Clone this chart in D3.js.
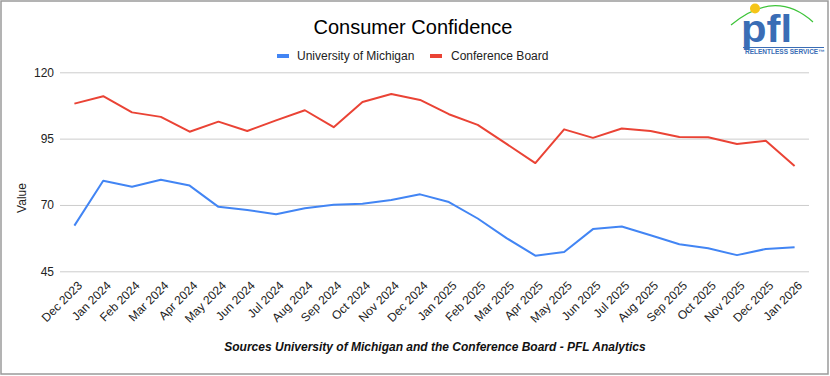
<!DOCTYPE html>
<html>
<head>
<meta charset="utf-8">
<script src="https://cdn.jsdelivr.net/npm/d3@7"></script>
<style>
	body { margin: 0; background: #fff; }
	svg { display: block; font-family: "Liberation Sans", Arial, sans-serif; }
</style>
</head>
<body>
<div id="chart"></div>
<script>

// monthly readings, Dec 2023 - Jan 2026
const months = ["Dec 2023", "Jan 2024", "Feb 2024", "Mar 2024", "Apr 2024", "May 2024", "Jun 2024",
	"Jul 2024", "Aug 2024", "Sep 2024", "Oct 2024", "Nov 2024", "Dec 2024", "Jan 2025", "Feb 2025",
	"Mar 2025", "Apr 2025", "May 2025", "Jun 2025", "Jul 2025", "Aug 2025", "Sep 2025", "Oct 2025",
	"Nov 2025", "Dec 2025", "Jan 2026"];

const michigan = [62.2, 79.1, 76.9, 79.5, 77.3, 69.3, 68.1, 66.5, 68.8, 70.1, 70.5, 71.9, 74.0,
	71.1, 64.9, 57.5, 50.9, 52.3, 60.9, 61.9, 58.6, 55.2, 53.7, 51.1, 53.4, 54.1];

const confBoard = [108.2, 111.0, 104.9, 103.2, 97.6, 101.4, 97.9, 101.9, 105.7, 99.3, 108.8, 111.8,
	109.6, 104.2, 100.2, 93.0, 85.8, 98.5, 95.3, 98.8, 97.9, 95.6, 95.5, 93.0, 94.2, 84.7];

const yTicks = [45, 70, 95, 120];

const series = [
	{ name: "University of Michigan", values: michigan, color: "#4285f4" },
	{ name: "Conference Board", values: confBoard, color: "#ea4335" }
];

const W = 830, H = 376;
const plot = { left: 60, right: 809, top: 72.3, bottom: 271.3 };

const svg = d3.select("#chart").append("svg")
	.attr("width", W)
	.attr("height", H);

svg.append("rect")
	.attr("x", 1).attr("y", 1)
	.attr("width", W - 3).attr("height", H - 3)
	.attr("fill", "#fff")
	.attr("stroke", "#9a9a9a")
	.attr("stroke-width", 1.5);

// title
svg.append("text")
	.attr("x", 413).attr("y", 34)
	.attr("text-anchor", "middle")
	.attr("font-size", 20)
	.attr("fill", "#000")
	.text("Consumer Confidence");

// legend
const legendPos = [{ sw: 277, tx: 297 }, { sw: 430, tx: 451 }];
const legend = svg.append("g").attr("class", "legend");
series.forEach((s, i) => {
	legend.append("rect")
		.attr("x", legendPos[i].sw).attr("y", 54)
		.attr("width", 12).attr("height", 4)
		.attr("fill", s.color);
	legend.append("text")
		.attr("x", legendPos[i].tx).attr("y", 60)
		.attr("font-size", 12)
		.attr("fill", "#222")
		.text(s.name);
});

// scales
const x = d3.scalePoint()
	.domain(months)
	.range([plot.left, plot.right])
	.padding(0.5);

const y = d3.scaleLinear()
	.domain([45, 120])
	.range([plot.bottom, plot.top]);

// gridlines + y labels
const yAxis = d3.axisLeft(y)
	.tickValues(yTicks)
	.tickSize(-(plot.right - plot.left))
	.tickPadding(6);

svg.append("g")
	.attr("class", "y-axis")
	.attr("transform", `translate(${plot.left},0)`)
	.call(yAxis)
	.call(g => g.select(".domain").remove())
	.call(g => g.selectAll(".tick line").attr("stroke", "#ccc"))
	.call(g => g.selectAll(".tick text")
		.attr("font-size", 12)
		.attr("font-family", "Liberation Sans, Arial, sans-serif")
		.attr("fill", "#222"));

svg.append("text")
	.attr("transform", "translate(26,198) rotate(-90)")
	.attr("text-anchor", "middle")
	.attr("font-size", 12)
	.attr("fill", "#222")
	.text("Value");

// x labels
const xAxis = d3.axisBottom(x).tickSize(0).tickPadding(0);
svg.append("g")
	.attr("class", "x-axis")
	.attr("transform", `translate(0,${plot.bottom})`)
	.call(xAxis)
	.call(g => g.select(".domain").remove())
	.call(g => g.selectAll(".tick text")
		.attr("font-size", 12)
		.attr("font-family", "Liberation Sans, Arial, sans-serif")
		.attr("fill", "#222")
		.attr("text-anchor", "end")
		.attr("dy", 0)
		.attr("transform", "translate(8,15) rotate(-45)"));

// lines
const line = d3.line()
	.x((d, i) => x(months[i]))
	.y(d => y(d));

svg.selectAll(".series")
	.data(series)
	.join("path")
	.attr("class", "series")
	.attr("fill", "none")
	.attr("stroke", d => d.color)
	.attr("stroke-width", 2)
	.attr("stroke-linejoin", "round")
	.attr("d", d => line(d.values));

// footer
svg.append("text")
	.attr("x", 435).attr("y", 351)
	.attr("text-anchor", "middle")
	.attr("font-size", 12)
	.attr("font-weight", "bold")
	.attr("font-style", "italic")
	.attr("fill", "#111")
	.text("Sources University of Michigan and the Conference Board - PFL Analytics");

// logo
const logo = svg.append("g").attr("class", "logo");
logo.append("path")
	.attr("d", "M731,25 Q775,-12 813,22")
	.attr("fill", "none")
	.attr("stroke", "#3ec43a")
	.attr("stroke-width", 1.2);
logo.append("text")
	.attr("transform", "translate(741,42) scale(1.1,1)")
	.attr("font-size", 38)
	.attr("font-weight", "bold")
	.attr("fill", "#3a6db5")
	.text("pfl");
logo.append("circle")
	.attr("cx", 755).attr("cy", 8.5).attr("r", 5)
	.attr("fill", "#f5c518");
logo.append("line")
	.attr("x1", 743).attr("x2", 824)
	.attr("y1", 47.5).attr("y2", 47.5)
	.attr("stroke", "#3a6db5").attr("stroke-width", 1);
logo.append("text")
	.attr("x", 745).attr("y", 54)
	.attr("font-size", 6.5)
	.attr("font-weight", "bold")
	.attr("fill", "#3a6db5")
	.text("RELENTLESS SERVICE™");

</script>
</body>
</html>
